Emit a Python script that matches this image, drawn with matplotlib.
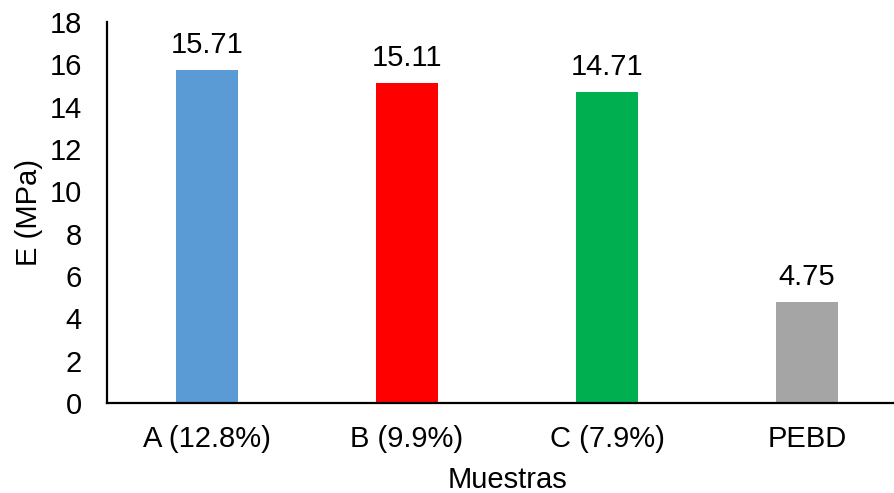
import matplotlib
matplotlib.use('Agg')
import matplotlib.pyplot as plt

muestras = ['A (12.8%)', 'B (9.9%)', 'C (7.9%)', 'PEBD']
modulo = [15.71, 15.11, 14.71, 4.75]
colores = ['#5B9BD5', '#FF0000', '#00B050', '#A5A5A5']

plt.rcParams['font.family'] = ['Liberation Sans', 'DejaVu Sans']

fig = plt.figure(figsize=(8.94, 4.93), dpi=100)
ax = fig.add_axes([107 / 894, 90 / 493, 800 / 894, 381 / 493])

x = range(len(muestras))
ax.bar(x, modulo, width=0.31, color=colores, zorder=2)
for xi, v in zip(x, modulo):
    ax.annotate(f'{v:.2f}', (xi, v), xytext=(0, 8), textcoords='offset points',
                ha='center', va='bottom', fontsize=21)

ax.set_xlim(-0.5, 3.5)
ax.set_ylim(0, 18)
ax.set_yticks(range(0, 19, 2))
ax.set_xticks(list(x))
ax.set_xticklabels(muestras)
ax.tick_params(axis='both', length=0, labelsize=21)
ax.tick_params(axis='x', pad=16)
ax.tick_params(axis='y', pad=18)

for s in ['top', 'right']:
    ax.spines[s].set_visible(False)
for s in ['left', 'bottom']:
    ax.spines[s].set_linewidth(1.6)
    ax.spines[s].set_color('black')

ax.set_xlabel('Muestras', fontsize=21, labelpad=9)
ax.set_ylabel('E (MPa)', fontsize=21, labelpad=5)

fig.savefig('out.png', dpi=100)
